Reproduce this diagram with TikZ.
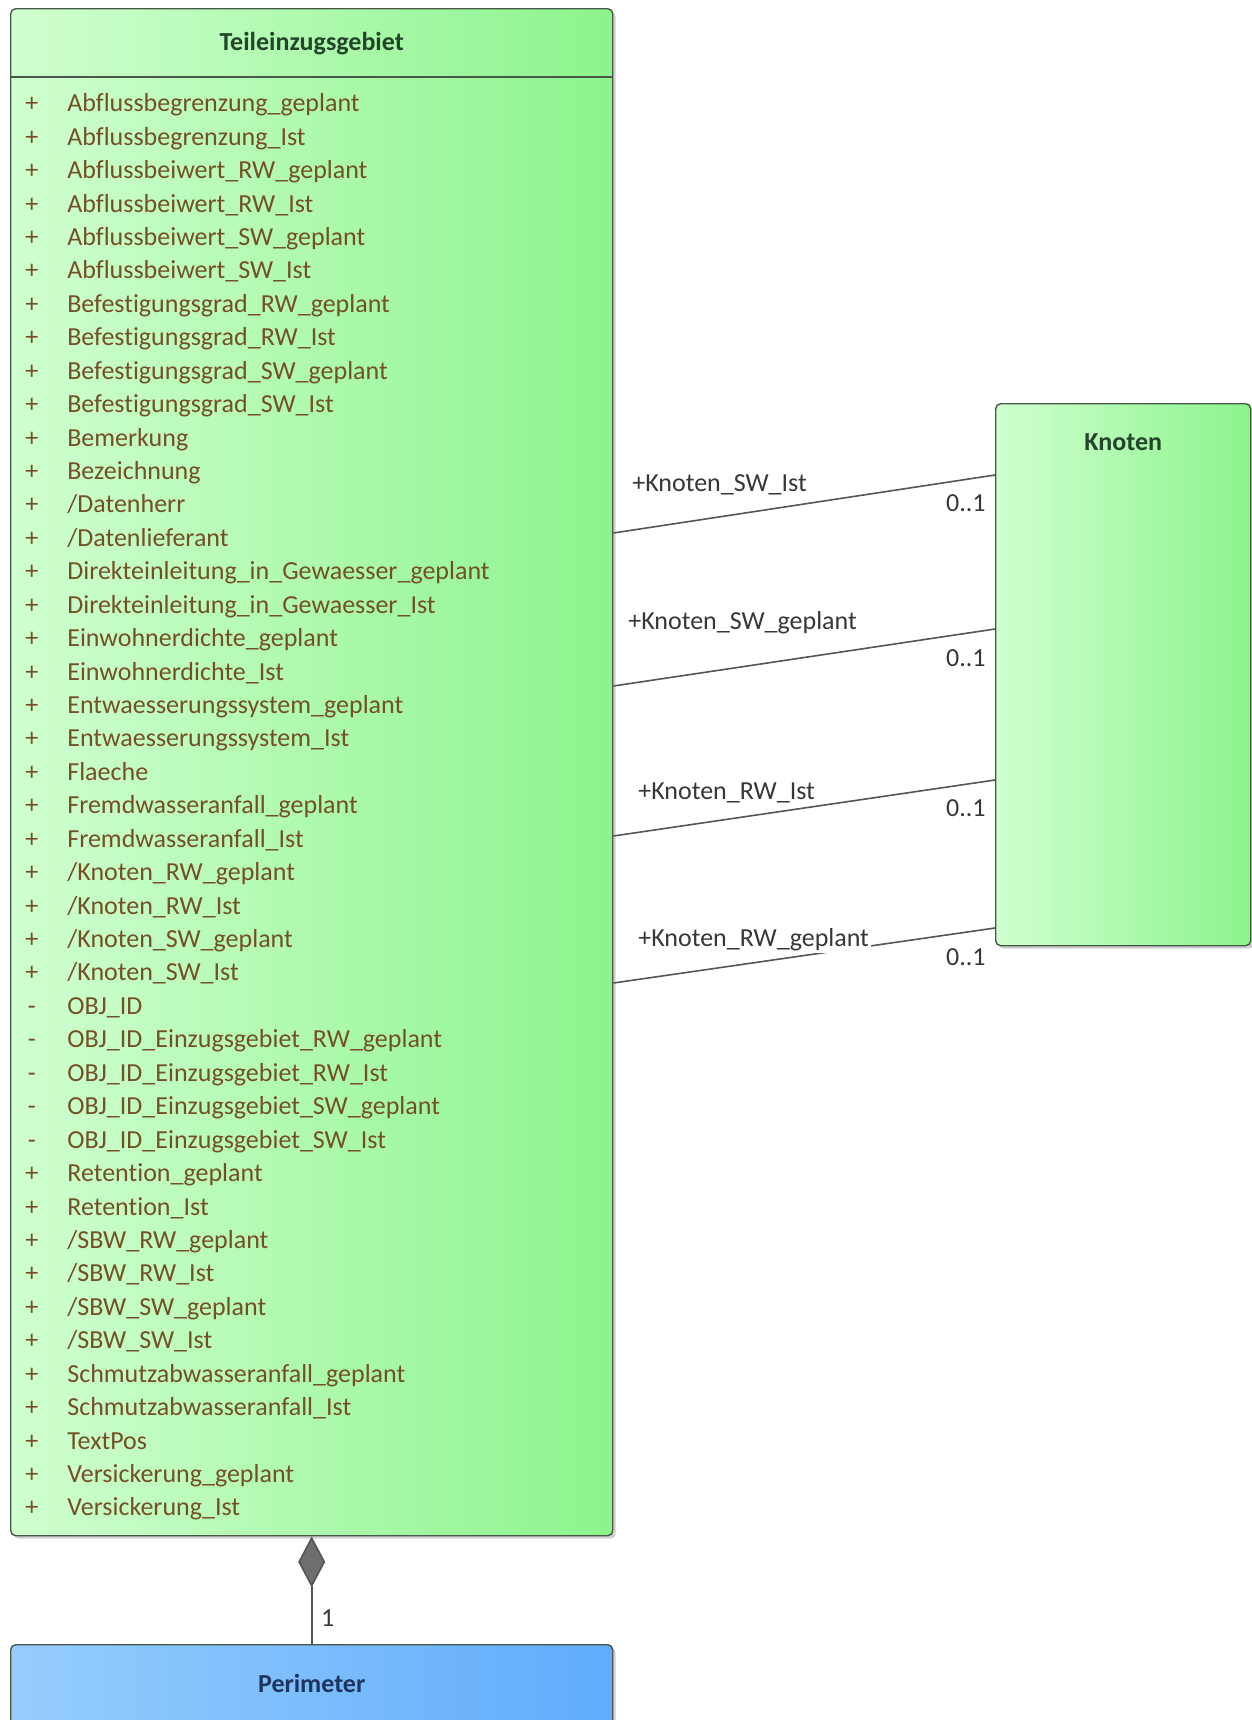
\documentclass[tikz,border=0pt]{standalone}
\usepackage{fontspec}
\setmainfont{Carlito}[Ligatures=NoCommon]
\usetikzlibrary{arrows.meta, positioning, calc, shadows}

\definecolor{greenL}{RGB}{208,255,208}
\definecolor{greenR}{RGB}{140,244,140}
\definecolor{blueL}{RGB}{150,205,252}
\definecolor{blueR}{RGB}{96,172,252}
\definecolor{boxborder}{RGB}{72,88,72}
\definecolor{linegray}{RGB}{85,85,85}
\definecolor{labelgray}{RGB}{55,55,55}
\definecolor{attrtext}{RGB}{116,80,36}
\definecolor{titlegreen}{RGB}{36,68,44}
\definecolor{titleblue}{RGB}{30,52,92}

\begin{document}
\begin{tikzpicture}[
    x=0.5pt, y=-0.5pt,
    font=\fontsize{13}{16.715}\selectfont,
    classbox/.style={draw=boxborder, line width=0.7pt, rounded corners=2.5pt, anchor=north west, inner sep=0pt,
      drop shadow={shadow xshift=1.5pt, shadow yshift=-1.5pt, fill=black!40, opacity=0.45}},
    greenclass/.style={classbox, left color=greenL, right color=greenR},
    blueclass/.style={classbox, left color=blueL, right color=blueR},
    classname/.style={font=\fontsize{13}{16}\selectfont\bfseries},
    attrlist/.style={anchor=north west, inner sep=0pt, text=attrtext, align=left},
    assoc/.style={draw=linegray, line width=0.8pt},
    role/.style={anchor=west, fill=white, inner sep=1pt, text=labelgray},
    mult/.style={anchor=east, inner sep=1pt, text=labelgray}
]
  \useasboundingbox (0,0) rectangle (1252,1720);

  % classes
  \node[greenclass, minimum width=301pt, minimum height=763.5pt] (teil) at (10,8) {};
  \node[greenclass, minimum width=127.5pt, minimum height=271pt] (knoten) at (995,403) {};
  \node[blueclass, minimum width=301pt, minimum height=60pt] (peri) at (10,1644) {};

  \node[classname, text=titlegreen] (teilname) at ([yshift=-18pt]teil.north) {Teileinzugsgebiet};
  \draw[draw=boxborder, line width=0.7pt] ([yshift=-34.5pt]teil.north west) -- ([yshift=-34.5pt]teil.north east);
  \node[classname, text=titlegreen] (knotenname) at ([yshift=-19.5pt]knoten.north) {Knoten};
  \node[classname, text=titleblue] (periname) at ([yshift=-19.5pt]peri.north) {Perimeter};

  \node[attrlist] (attrs) at (25,88) {%
    \begin{tabular}{@{}c@{\hspace{14.5pt}}l@{}}
    + & Abflussbegrenzung\_geplant \\
    + & Abflussbegrenzung\_Ist \\
    + & Abflussbeiwert\_RW\_geplant \\
    + & Abflussbeiwert\_RW\_Ist \\
    + & Abflussbeiwert\_SW\_geplant \\
    + & Abflussbeiwert\_SW\_Ist \\
    + & Befestigungsgrad\_RW\_geplant \\
    + & Befestigungsgrad\_RW\_Ist \\
    + & Befestigungsgrad\_SW\_geplant \\
    + & Befestigungsgrad\_SW\_Ist \\
    + & Bemerkung \\
    + & Bezeichnung \\
    + & /Datenherr \\
    + & /Datenlieferant \\
    + & Direkteinleitung\_in\_Gewaesser\_geplant \\
    + & Direkteinleitung\_in\_Gewaesser\_Ist \\
    + & Einwohnerdichte\_geplant \\
    + & Einwohnerdichte\_Ist \\
    + & Entwaesserungssystem\_geplant \\
    + & Entwaesserungssystem\_Ist \\
    + & Flaeche \\
    + & Fremdwasseranfall\_geplant \\
    + & Fremdwasseranfall\_Ist \\
    + & /Knoten\_RW\_geplant \\
    + & /Knoten\_RW\_Ist \\
    + & /Knoten\_SW\_geplant \\
    + & /Knoten\_SW\_Ist \\
    - & OBJ\_ID \\
    - & OBJ\_ID\_Einzugsgebiet\_RW\_geplant \\
    - & OBJ\_ID\_Einzugsgebiet\_RW\_Ist \\
    - & OBJ\_ID\_Einzugsgebiet\_SW\_geplant \\
    - & OBJ\_ID\_Einzugsgebiet\_SW\_Ist \\
    + & Retention\_geplant \\
    + & Retention\_Ist \\
    + & /SBW\_RW\_geplant \\
    + & /SBW\_RW\_Ist \\
    + & /SBW\_SW\_geplant \\
    + & /SBW\_SW\_Ist \\
    + & Schmutzabwasseranfall\_geplant \\
    + & Schmutzabwasseranfall\_Ist \\
    + & TextPos \\
    + & Versickerung\_geplant \\
    + & Versickerung\_Ist
    \end{tabular}};

  % association ends
  \coordinate (t1) at ($(teil.north east)+(0,525)$);
  \coordinate (t2) at ($(teil.north east)+(0,678)$);
  \coordinate (t3) at ($(teil.north east)+(0,828)$);
  \coordinate (t4) at ($(teil.north east)+(0,975)$);
  \coordinate (k1) at ($(knoten.north west)+(0,72)$);
  \coordinate (k2) at ($(knoten.north west)+(0,226)$);
  \coordinate (k3) at ($(knoten.north west)+(0,377)$);
  \coordinate (k4) at ($(knoten.north west)+(0,525)$);

  \draw[assoc] (t1) -- (k1);
  \draw[assoc] (t2) -- (k2);
  \draw[assoc] (t3) -- (k3);
  \draw[assoc] (t4) -- (k4);

  \node[role] (r1) at (630,485) {+Knoten\_SW\_Ist};
  \node[role] (r2) at (626,623) {+Knoten\_SW\_geplant};
  \node[role] (r3) at (636,793) {+Knoten\_RW\_Ist};
  \node[role] (r4) at (636,940) {+Knoten\_RW\_geplant};
  \node[mult] (m1) at (988,503) {0..1};
  \node[mult] (m2) at (988,658) {0..1};
  \node[mult] (m3) at (988,808) {0..1};
  \node[mult] (m4) at (988,957) {0..1};

  % composition
  \draw[assoc, {Diamond[length=25.5pt, width=13.5pt, fill=linegray!85]}-] (teil.south) -- (peri.north)
    node[pos=0.76, right=1pt, text=labelgray] (one) {1};
\end{tikzpicture}
\end{document}
